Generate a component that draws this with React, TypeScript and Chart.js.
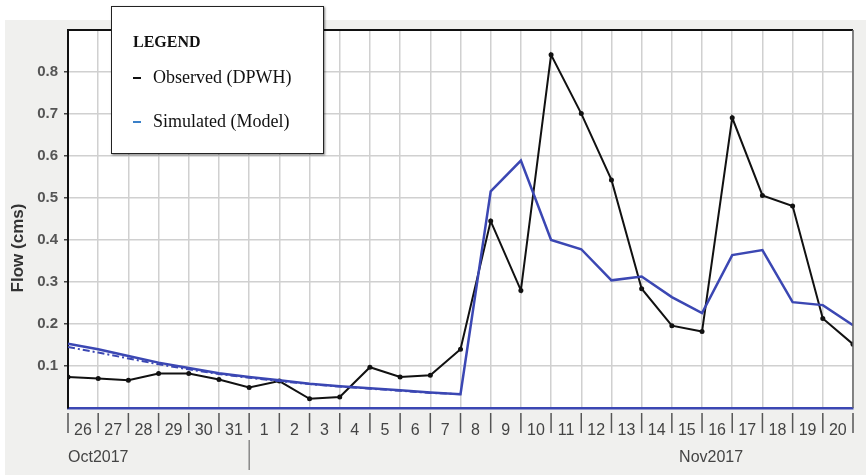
import React, { useEffect, useRef } from "react";
import { Chart, registerables } from "chart.js";

Chart.register(...registerables);

const dayLabels = ["26", "27", "28", "29", "30", "31", "1", "2", "3", "4", "5", "6", "7", "8", "9", "10", "11", "12", "13", "14", "15", "16", "17", "18", "19", "20"];
const monthLabels = ["Oct2017", "Nov2017"];
const yTitle = "Flow (cms)";
const observed = [0.074, 0.070, 0.066, 0.082, 0.082, 0.068, 0.049, 0.064, 0.022, 0.026, 0.097, 0.074, 0.078, 0.140, 0.445, 0.280, 0.841, 0.701, 0.543, 0.284, 0.196, 0.182, 0.691, 0.506, 0.481, 0.213, 0.152];
const simulated = [0.153, 0.140, 0.124, 0.108, 0.095, 0.083, 0.074, 0.066, 0.058, 0.052, 0.047, 0.042, 0.037, 0.033, 0.516, 0.589, 0.400, 0.378, 0.304, 0.313, 0.264, 0.226, 0.364, 0.376, 0.252, 0.245, 0.197];
const simulatedAlt = [0.145, 0.132, 0.118, 0.104, 0.092, 0.081, 0.072, 0.064, 0.057, 0.051, 0.046, 0.041, 0.036, 0.033];
const yTickValues = [0.1, 0.2, 0.3, 0.4, 0.5, 0.6, 0.7, 0.8];

const BLUE = "#3b47b3";
const SANS = "'Liberation Sans', Arial, sans-serif";

const framePlugin = {
  id: "frame",
  beforeDraw(chart: any) {
    const { ctx, chartArea } = chart;
    ctx.save();
    ctx.fillStyle = "#ffffff";
    ctx.fillRect(0, 0, chart.width, chart.height);
    ctx.fillStyle = "#f0f0ee";
    ctx.fillRect(5, 20, chart.width - 5, chart.height - 20);
    ctx.fillStyle = "#ffffff";
    ctx.fillRect(chartArea.left, chartArea.top, chartArea.right - chartArea.left, chartArea.bottom - chartArea.top);
    ctx.restore();
  },
  afterDraw(chart: any) {
    const { ctx, chartArea } = chart;
    const xs = chart.scales.x;
    ctx.save();
    // top & right border
    ctx.strokeStyle = "#111";
    ctx.lineWidth = 2;
    ctx.beginPath();
    ctx.moveTo(chartArea.left, chartArea.top);
    ctx.lineTo(chartArea.right, chartArea.top);
    ctx.stroke();
    ctx.strokeStyle = "#666";
    ctx.lineWidth = 1.5;
    ctx.beginPath();
    ctx.moveTo(chartArea.right, chartArea.top);
    ctx.lineTo(chartArea.right, chartArea.bottom);
    ctx.stroke();
    // x tick marks
    ctx.strokeStyle = "#555";
    ctx.lineWidth = 1.5;
    for (let i = 0; i <= dayLabels.length; i++) {
      const x = xs.getPixelForValue(i);
      ctx.beginPath();
      ctx.moveTo(x, chartArea.bottom + 5);
      ctx.lineTo(x, chartArea.bottom + 25);
      ctx.stroke();
    }
    // month separator
    const sep = xs.getPixelForValue(6);
    ctx.strokeStyle = "#555";
    ctx.lineWidth = 1;
    ctx.beginPath();
    ctx.moveTo(sep, chartArea.bottom + 32);
    ctx.lineTo(sep, chartArea.bottom + 62);
    ctx.stroke();
    // month labels
    ctx.fillStyle = "#444";
    ctx.font = "16px " + SANS;
    ctx.textBaseline = "middle";
    ctx.textAlign = "left";
    ctx.fillText(monthLabels[0], xs.getPixelForValue(0), chartArea.bottom + 50);
    ctx.textAlign = "center";
    ctx.fillText(monthLabels[1], xs.getPixelForValue(21.3), chartArea.bottom + 50);
    // y title
    ctx.translate(18.5, 248);
    ctx.rotate(-Math.PI / 2);
    ctx.fillStyle = "#333";
    ctx.font = "bold 17px " + SANS;
    ctx.textAlign = "center";
    ctx.textBaseline = "middle";
    ctx.fillText(yTitle, 0, 0);
    ctx.restore();
  },
};

function LegendBox() {
  const serif = "'Liberation Serif', 'Times New Roman', serif";
  return (
    <div
      style={{
        position: "absolute",
        left: 111,
        top: 6,
        width: 211,
        height: 146,
        background: "#fff",
        border: "1px solid #222",
        boxShadow: "1px 1px 2px rgba(0,0,0,0.5)",
        fontFamily: serif,
        color: "#111",
      }}
    >
      <div style={{ position: "absolute", left: 21, top: 26, fontSize: 16, fontWeight: "bold" }}>LEGEND</div>
      <div style={{ position: "absolute", left: 21, top: 60, fontSize: 18, whiteSpace: "nowrap", display: "flex", alignItems: "center" }}>
        <span style={{ display: "inline-block", width: 8, height: 2, background: "#111", marginRight: 12 }} />
        Observed (DPWH)
      </div>
      <div style={{ position: "absolute", left: 21, top: 104, fontSize: 18, whiteSpace: "nowrap", display: "flex", alignItems: "center" }}>
        <span style={{ display: "inline-block", width: 8, height: 2, background: "#3a80c8", marginRight: 12 }} />
        Simulated (Model)
      </div>
    </div>
  );
}

export default function App() {
  const ref = useRef<HTMLCanvasElement | null>(null);
  useEffect(() => {
    document.body.style.margin = "0";
    if (!ref.current) return;
    const chart = new Chart(ref.current, {
      type: "line",
      data: {
        datasets: [
          {
            label: "Simulated alt",
            data: simulatedAlt.map((v, i) => ({ x: i, y: v })),
            borderColor: BLUE,
            borderWidth: 2,
            borderDash: [7, 3, 2, 3],
            pointRadius: 0,
            tension: 0,
          },
          {
            label: "Simulated (Model)",
            data: simulated.map((v, i) => ({ x: i, y: v })),
            borderColor: BLUE,
            borderWidth: 2.5,
            pointRadius: 0,
            tension: 0,
          },
          {
            label: "Observed (DPWH)",
            data: observed.map((v, i) => ({ x: i, y: v })),
            borderColor: "#111",
            backgroundColor: "#111",
            borderWidth: 2,
            pointRadius: 2.5,
            pointBorderWidth: 0,
            tension: 0,
          },
        ],
      },
      options: {
        animation: false,
        responsive: false,
        maintainAspectRatio: false,
        layout: { padding: { left: 0, top: 30, right: 6, bottom: 0 } },
        plugins: { legend: { display: false }, tooltip: { enabled: false } },
        scales: {
          x: {
            type: "linear",
            min: 0,
            max: dayLabels.length,
            afterFit: (s: any) => {
              s.height = 67;
            },
            border: { display: true, color: BLUE, width: 2.5 },
            grid: { color: "#d0d0d0", lineWidth: 1.5, drawTicks: false },
            ticks: {
              stepSize: 1,
              autoSkip: false,
              maxRotation: 0,
              labelOffset: 15,
              padding: 13,
              color: "#444",
              font: { size: 16, family: SANS },
              callback: (v: any) => dayLabels[v] ?? "",
            },
          },
          y: {
            min: 0,
            max: 0.9,
            afterFit: (s: any) => {
              s.width = 68;
            },
            afterBuildTicks: (s: any) => {
              s.ticks = [0, ...yTickValues, 0.9].map((v) => ({ value: v }));
            },
            border: { display: true, color: "#111", width: 2 },
            grid: {
              color: "#d0d0d0",
              lineWidth: 1.5,
              tickLength: 4,
              tickColor: (c: any) => (c.tick && c.tick.value > 0.05 && c.tick.value < 0.85 ? "#444" : "rgba(0,0,0,0)"),
            },
            ticks: {
              padding: 6,
              color: "#555",
              font: { size: 15, weight: "bold", family: SANS },
              callback: (v: any) => (v > 0.05 && v < 0.85 ? Number(v).toFixed(1) : ""),
            },
          },
        },
      },
      plugins: [framePlugin],
    } as any);
    return () => chart.destroy();
  }, []);
  return (
    <div style={{ position: "relative", width: 866, height: 475 }}>
      <canvas ref={ref} width={866} height={475} style={{ display: "block" }} />
      <LegendBox />
    </div>
  );
}
